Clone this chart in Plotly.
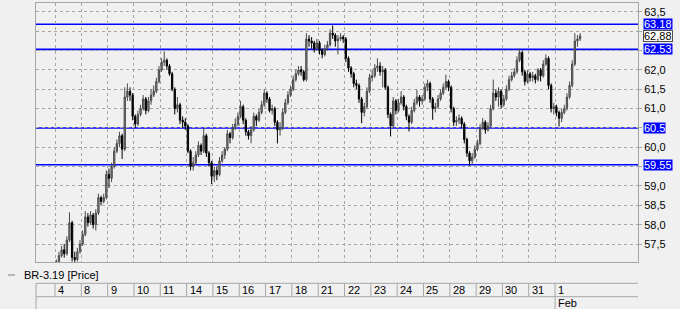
import plotly.graph_objects as go

# ---- data -------------------------------------------------------------
day_labels = ["4", "8", "9", "10", "11", "14", "15", "16", "17", "18",
              "21", "22", "23", "24", "25", "28", "29", "30", "31", "1"]
month_label = "Feb"
month_day_index = 19
bars_per_day = 10
series_name = "BR-3.19 [Price]"

open_ = [
    56.95, 57.05, 57.2, 57.35, 57.25, 57.6, 58.05, 57.15, 57.1, 57.3,
    57.5, 57.75, 58.2, 58.05, 58.25, 58.0, 58.3, 58.7, 58.6, 58.7,
    59.3, 59.2, 59.5, 59.9, 60.1, 60.3, 59.95, 61.3, 61.45, 61.35,
    60.8, 60.6, 60.85, 61.0, 61.25, 60.95, 61.2, 61.35, 61.45, 61.7,
    62.0, 62.2, 62.25, 62.1, 61.9, 61.5, 61.0, 61.1, 60.7, 60.65,
    60.55, 59.9, 59.5, 59.6, 59.8, 60.05, 59.9, 60.3, 59.85, 59.6,
    59.25, 59.4, 59.3, 59.65, 59.8, 59.95, 60.35, 60.25, 60.5, 60.6,
    60.8, 61.05, 60.7, 60.4, 60.3, 60.45, 60.8, 60.7, 60.9, 61.1,
    61.4, 61.25, 60.95, 61.0, 60.65, 60.45, 60.5, 60.9, 61.15, 61.35,
    61.5, 61.75, 61.9, 62.0, 61.95, 61.75, 62.8, 62.75, 62.7, 62.55,
    62.7, 62.5, 62.4, 62.55, 62.65, 62.95, 62.9, 62.75, 62.8, 62.85,
    62.8, 62.3, 62.05, 61.9, 61.65, 61.6, 61.25, 60.9, 61.05, 61.45,
    61.8, 61.85, 62.05, 62.1, 61.95, 62.0, 61.55, 60.85, 60.55, 61.2,
    60.95, 61.15, 61.3, 61.05, 60.8, 60.65, 60.95, 61.15, 61.3, 61.2,
    61.25, 61.55, 61.65, 61.25, 61.0, 61.05, 61.25, 61.4, 61.55, 61.7,
    61.55, 61.0, 60.65, 60.7, 60.75, 60.6, 60.2, 59.85, 59.65, 59.75,
    59.95, 60.1, 60.5, 60.65, 60.45, 60.55, 61.0, 61.4, 61.3, 61.45,
    61.1, 61.25, 61.5, 61.75, 61.85, 61.95, 62.25, 62.45, 61.95, 61.7,
    61.9, 61.8, 61.85, 61.75, 62.0, 61.85, 62.15, 62.3, 61.6, 61.0,
    61.05, 60.9, 60.75, 60.9, 61.0, 61.3, 61.6, 62.15, 62.75, 62.8,
]
high = [
    57.1, 57.3, 57.45, 57.5, 57.7, 58.32, 58.1, 57.3, 57.4, 57.6,
    57.85, 58.35, 58.3, 58.35, 58.3, 58.4, 58.8, 58.75, 58.8, 59.4,
    59.45, 59.6, 60.0, 60.2, 60.4, 60.35, 61.55, 61.65, 61.55, 61.4,
    60.85, 60.95, 61.1, 61.35, 61.3, 61.3, 61.5, 61.6, 61.8, 62.1,
    62.3, 62.48, 62.3, 62.15, 61.95, 61.55, 61.3, 61.15, 60.8, 60.75,
    60.6, 59.95, 59.75, 59.9, 60.15, 60.1, 60.5, 60.35, 59.9, 59.65,
    59.5, 59.5, 59.75, 59.9, 60.0, 60.45, 60.4, 60.6, 60.75, 60.9,
    61.2, 61.1, 60.75, 60.45, 60.55, 60.9, 60.85, 61.0, 61.2, 61.5,
    61.45, 61.3, 61.1, 61.05, 60.7, 60.65, 61.0, 61.25, 61.45, 61.6,
    61.85, 62.0, 62.1, 62.1, 62.0, 62.95, 62.9, 62.85, 62.75, 62.8,
    62.75, 62.55, 62.65, 62.75, 63.05, 63.15, 62.95, 62.9, 62.95, 62.9,
    62.85, 62.35, 62.1, 61.95, 61.75, 61.65, 61.3, 61.15, 61.55, 61.9,
    62.0, 62.15, 62.3, 62.2, 62.1, 62.05, 61.6, 60.9, 61.3, 61.25,
    61.25, 61.45, 61.35, 61.1, 60.85, 61.05, 61.25, 61.49, 61.35, 61.35,
    61.65, 61.75, 61.7, 61.3, 61.15, 61.35, 61.5, 61.65, 61.88, 61.75,
    61.6, 61.05, 60.8, 60.85, 60.8, 60.65, 60.25, 59.9, 59.85, 60.05,
    60.2, 60.6, 60.76, 60.7, 60.65, 61.1, 61.75, 61.5, 61.55, 61.5,
    61.35, 61.6, 61.85, 61.95, 62.05, 62.35, 62.55, 62.5, 62.0, 62.0,
    61.95, 61.95, 61.9, 62.05, 62.05, 62.25, 62.4, 62.35, 61.65, 61.15,
    61.1, 60.95, 61.0, 61.1, 61.4, 61.7, 62.25, 62.95, 62.9, 62.95,
]
low = [
    56.9, 57.0, 57.15, 57.15, 57.2, 57.55, 57.05, 57.0, 57.05, 57.25,
    57.45, 57.7, 57.95, 58.0, 57.9, 57.85, 58.25, 58.5, 58.55, 58.65,
    58.95, 59.1, 59.45, 59.85, 60.0, 59.7, 59.9, 61.2, 61.2, 60.7,
    60.5, 60.55, 60.8, 60.95, 60.85, 60.9, 61.1, 61.3, 61.4, 61.65,
    61.95, 62.1, 62.0, 61.85, 61.45, 60.85, 60.9, 60.6, 60.5, 60.45,
    59.85, 59.4, 59.4, 59.55, 59.75, 59.8, 59.85, 59.75, 59.5, 59.05,
    59.1, 59.15, 59.25, 59.6, 59.7, 59.9, 60.1, 60.2, 60.45, 60.55,
    60.75, 60.6, 60.3, 60.2, 60.1, 60.4, 60.55, 60.65, 60.85, 61.05,
    61.15, 60.9, 60.85, 60.55, 60.1, 60.3, 60.45, 60.85, 61.1, 61.3,
    61.45, 61.7, 61.85, 61.85, 61.7, 61.7, 62.6, 62.55, 62.45, 62.5,
    62.4, 62.3, 62.35, 62.5, 62.6, 62.8, 62.6, 62.4, 62.75, 62.7,
    62.2, 61.95, 61.8, 61.55, 61.5, 61.15, 60.62, 60.8, 61.0, 61.4,
    61.7, 61.8, 61.95, 61.85, 61.55, 61.5, 60.75, 60.28, 60.5, 60.85,
    60.9, 61.1, 60.95, 60.7, 60.41, 60.6, 60.9, 61.1, 61.05, 61.1,
    61.2, 61.45, 61.15, 60.71, 60.9, 61.0, 61.2, 61.35, 61.5, 61.45,
    60.9, 60.55, 60.55, 60.6, 60.5, 60.1, 59.75, 59.52, 59.55, 59.7,
    59.9, 60.05, 60.45, 60.35, 60.4, 60.5, 60.95, 61.2, 61.05, 61.0,
    61.05, 61.2, 61.45, 61.7, 61.8, 61.9, 62.2, 61.85, 61.6, 61.65,
    61.7, 61.7, 61.65, 61.7, 61.7, 61.8, 62.1, 61.5, 60.9, 60.85,
    60.8, 60.54, 60.65, 60.85, 60.95, 61.25, 61.55, 62.1, 62.6, 62.75,
]
close = [
    57.05, 57.2, 57.35, 57.25, 57.6, 58.05, 57.15, 57.1, 57.3, 57.5,
    57.75, 58.2, 58.05, 58.25, 58.0, 58.3, 58.7, 58.6, 58.7, 59.3,
    59.2, 59.5, 59.9, 60.1, 60.3, 59.95, 61.3, 61.45, 61.35, 60.8,
    60.6, 60.85, 61.0, 61.25, 60.95, 61.2, 61.35, 61.45, 61.7, 62.0,
    62.2, 62.25, 62.1, 61.9, 61.5, 61.0, 61.1, 60.7, 60.65, 60.55,
    59.9, 59.5, 59.6, 59.8, 60.05, 59.9, 60.3, 59.85, 59.6, 59.25,
    59.4, 59.3, 59.65, 59.8, 59.95, 60.35, 60.25, 60.5, 60.6, 60.8,
    61.05, 60.7, 60.4, 60.3, 60.45, 60.8, 60.7, 60.9, 61.1, 61.4,
    61.25, 60.95, 61.0, 60.65, 60.45, 60.5, 60.9, 61.15, 61.35, 61.5,
    61.75, 61.9, 62.0, 61.95, 61.75, 62.8, 62.75, 62.7, 62.55, 62.7,
    62.5, 62.4, 62.55, 62.65, 62.95, 62.9, 62.75, 62.8, 62.85, 62.8,
    62.3, 62.05, 61.9, 61.65, 61.6, 61.25, 60.9, 61.05, 61.45, 61.8,
    61.85, 62.05, 62.1, 61.95, 62.0, 61.55, 60.85, 60.55, 61.2, 60.95,
    61.15, 61.3, 61.05, 60.8, 60.65, 60.95, 61.15, 61.3, 61.2, 61.25,
    61.55, 61.65, 61.25, 61.0, 61.05, 61.25, 61.4, 61.55, 61.7, 61.55,
    61.0, 60.65, 60.7, 60.75, 60.6, 60.2, 59.85, 59.65, 59.75, 59.95,
    60.1, 60.5, 60.65, 60.45, 60.55, 61.0, 61.4, 61.3, 61.45, 61.1,
    61.25, 61.5, 61.75, 61.85, 61.95, 62.25, 62.45, 61.95, 61.7, 61.9,
    61.8, 61.85, 61.75, 62.0, 61.85, 62.15, 62.3, 61.6, 61.0, 61.05,
    60.9, 60.75, 60.9, 61.0, 61.3, 61.6, 62.15, 62.75, 62.8, 62.88,
]

levels = [63.18, 62.53, 60.5, 59.55]
level_labels = ["63.18", "62.53", "60.5", "59.55"]
last_price = 62.88
last_label = "62,88"

y_tickvals = [57.5, 58.0, 58.5, 59.0, 59.5, 60.0, 60.5, 61.0, 61.5, 62.0, 62.5, 63.0, 63.5]
y_ticktext = ["57,5", "58,0", "58,5", "59,0", "", "60,0", "", "61,0", "61,5", "62,0", "", "", "63,5"]

# ---- layout constants --------------------------------------------------
W, H = 680, 309
ML, MR, MT, MB = 36, 42, 3, 0
PLOT_BOTTOM_PX = 262


def py(px):
    """page pixel row -> paper y"""
    return (H - MB - px) / (H - MT - MB)


def px_x(px):
    """page pixel column -> paper x"""
    return (px - ML) / (W - ML - MR)


FONT = "Liberation Sans, Arial, sans-serif"
GRID = "#a6a6a6"
BG = "#f0f0f0"

x = list(range(len(close)))
day_bounds = [d * bars_per_day - 0.5 for d in range(len(day_labels))]

fig = go.Figure(go.Candlestick(
    x=x, open=open_, high=high, low=low, close=close,
    increasing=dict(line=dict(color="#4a4a4a", width=1), fillcolor="#858585"),
    decreasing=dict(line=dict(color="#000000", width=1), fillcolor="#000000"),
    whiskerwidth=0,
    showlegend=False,
    hoverinfo="skip",
))

shapes = []
annotations = []

# horizontal support / resistance levels
for lv, lab in zip(levels, level_labels):
    shapes.append(dict(type="line", xref="paper", yref="y", x0=0, x1=1, y0=lv, y1=lv,
                       line=dict(color="#0000ff", width=1.6), layer="between"))
    annotations.append(dict(xref="paper", yref="y", x=1, y=lv, xanchor="left", yanchor="middle",
                            xshift=5, text=lab, showarrow=False, bgcolor="#0000ff",
                            borderpad=0, height=10,
                            font=dict(family=FONT, size=11, color="#ffffff")))

# last price box
annotations.append(dict(xref="paper", yref="y", x=1, y=last_price, xanchor="left", yanchor="middle",
                        xshift=5, text=last_label, showarrow=False, bgcolor="#ffffff",
                        bordercolor="#505050", borderwidth=1, borderpad=0, height=10,
                        font=dict(family=FONT, size=11, color="#000000")))

# series legend line
shapes.append(dict(type="line", xref="paper", yref="paper", x0=px_x(8), x1=px_x(15),
                   y0=py(275), y1=py(275), line=dict(color="#808080", width=1)))
annotations.append(dict(xref="paper", yref="paper", x=px_x(22), y=py(275), xanchor="left",
                        yanchor="middle", text=series_name, showarrow=False,
                        font=dict(family=FONT, size=11, color="#000000")))

# date table below the chart
ROW1_TOP, ROW1_BOT, ROW2_BOT = 283.3, 296.7, 309
for yy in (ROW1_TOP, ROW1_BOT):
    shapes.append(dict(type="line", xref="paper", yref="paper", x0=0, x1=1, y0=py(yy), y1=py(yy),
                       line=dict(color=GRID, width=1)))
shapes.append(dict(type="line", xref="paper", yref="paper", x0=0, x1=0,
                   y0=py(ROW1_TOP), y1=py(ROW2_BOT), line=dict(color=GRID, width=1)))
for xb, lab in zip(day_bounds, day_labels):
    shapes.append(dict(type="line", xref="x", yref="paper", x0=xb, x1=xb,
                       y0=py(ROW1_TOP), y1=py(ROW1_BOT), line=dict(color=GRID, width=1)))
    annotations.append(dict(xref="x", yref="paper", x=xb, y=py((ROW1_TOP + ROW1_BOT) / 2),
                            xanchor="left", yanchor="middle", xshift=1, text=lab, showarrow=False,
                            font=dict(family=FONT, size=11, color="#000000")))
xm = day_bounds[month_day_index]
shapes.append(dict(type="line", xref="x", yref="paper", x0=xm, x1=xm,
                   y0=py(ROW1_BOT), y1=py(ROW2_BOT), line=dict(color=GRID, width=1)))
annotations.append(dict(xref="x", yref="paper", x=xm, y=py((ROW1_BOT + ROW2_BOT) / 2),
                        xanchor="left", yanchor="middle", xshift=1, text=month_label, showarrow=False,
                        font=dict(family=FONT, size=11, color="#000000")))

fig.update_layout(
    width=W, height=H,
    margin=dict(l=ML, r=MR, t=MT, b=MB, pad=0),
    paper_bgcolor=BG, plot_bgcolor=BG,
    font=dict(family=FONT, size=11, color="#000000"),
    shapes=shapes, annotations=annotations,
    showlegend=False,
    xaxis=dict(
        range=[-7.72, 221.0], tickvals=day_bounds, showticklabels=False, ticks="",
        showgrid=True, gridcolor=GRID, griddash="dot", gridwidth=1,
        showline=True, linecolor=GRID, linewidth=1, mirror=True, zeroline=False,
        rangeslider=dict(visible=False), fixedrange=True,
    ),
    yaxis=dict(
        domain=[py(PLOT_BOTTOM_PX), 1], range=[57.035, 63.73], side="right",
        tickvals=y_tickvals, ticktext=y_ticktext,
        showgrid=True, gridcolor=GRID, griddash="dot", gridwidth=1,
        ticks="outside", ticklen=3, tickcolor=GRID,
        showline=True, linecolor=GRID, linewidth=1, mirror=True, zeroline=False,
        tickfont=dict(family=FONT, size=11, color="#000000"), fixedrange=True,
    ),
)

fig.write_html("out.html")
